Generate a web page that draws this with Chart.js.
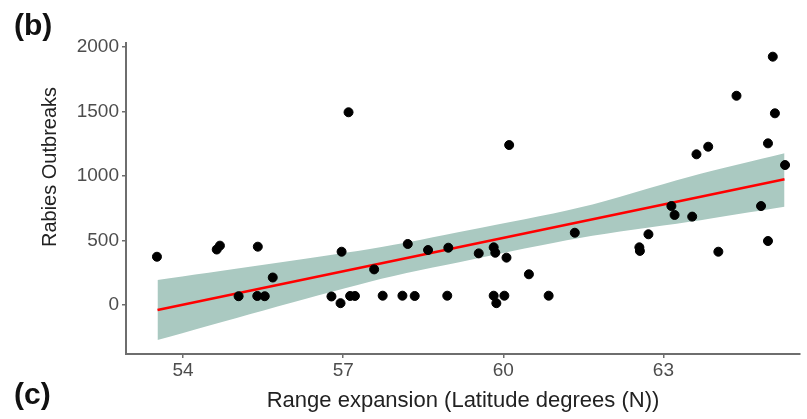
<!DOCTYPE html>
<html>
<head>
<meta charset="utf-8">
<title>Rabies outbreaks vs range expansion</title>
<script src="https://cdn.jsdelivr.net/npm/chart.js@4.4.1/dist/chart.umd.min.js"></script>
<style>
    html, body { margin: 0; padding: 0; background: #ffffff; }
    #wrap { width: 807px; height: 419px; position: relative; }
</style>
</head>
<body>
<div id="wrap"><canvas id="myChart" width="807" height="419"></canvas></div>
<script>
// Variables
    var latitude = [53.51, 54.63, 54.69, 55.40, 55.04, 55.39, 55.53, 55.68, 56.78, 56.95,
                    56.97, 57.13, 57.22, 57.58, 57.74, 58.11, 58.21, 58.34, 58.59, 58.95,
                    58.97, 59.54, 59.82, 59.85, 59.82, 59.87, 60.02, 60.06, 60.48, 60.85,
                    57.10, 60.11, 61.34, 62.55, 62.56, 62.72, 63.15, 63.21, 63.54, 64.03,
                    64.83, 64.96, 65.05, 64.37, 65.09, 63.62, 63.84, 64.96, 65.28];
    var outbreaks = [374, 430, 460, 452, 68, 70, 68, 213, 66, 14,
                     413, 70, 70, 276, 72, 72, 473, 70, 426, 72,
                     444, 400, 447, 405, 72, 14, 72, 367, 238, 72,
                     1494, 1240, 560, 447, 419, 548, 767, 698, 685, 413,
                     767, 496, 1925, 1622, 1486, 1168, 1227, 1253, 1085];

    // fitted line end points
    var fitX = [53.52, 65.27];
    var fitY = [-39, 974];

    // confidence ribbon
    var bandX = [53.52, 57.50, 59.37, 61.43, 63.49, 65.27];
    var bandLow = [-271, 181, 349, 520, 645, 762];
    var bandHigh = [194, 434, 581, 755, 995, 1176];

    var xTicks = [54, 57, 60, 63];
    var yTicks = [0, 500, 1000, 1500, 2000];

    var xTitle = 'Range expansion (Latitude degrees (N))';
    var yTitle = 'Rabies Outbreaks';

    var fontFam = '"Liberation Sans", Arial, Helvetica, sans-serif';

function toPoints(xs, ys){
    var pts = [];
    for (let i = 0; i < xs.length; i++) {
        pts.push({x: xs[i], y: ys[i]});
    }
    return pts;
}

// panel letters and axis titles drawn on top
var labelsPlugin = {
    id: 'labelsPlugin',
    afterDraw: function(chart){
        var ctx = chart.ctx;
        var area = chart.chartArea;
        ctx.save();
        ctx.fillStyle = '#111111';
        ctx.textBaseline = 'middle';
        ctx.textAlign = 'left';
        ctx.font = 'bold 30px ' + fontFam;
        ctx.fillText('(b)', 14, 27);
        ctx.fillText('(c)', 14, 396);

        ctx.fillStyle = '#222222';
        ctx.textAlign = 'center';
        ctx.font = '22px ' + fontFam;
        ctx.fillText(xTitle, (area.left + area.right) / 2, 401);

        ctx.translate(50, 167);
        ctx.rotate(-Math.PI / 2);
        ctx.font = '20px ' + fontFam;
        ctx.fillText(yTitle, 0, 0);
        ctx.restore();
    }
};

function drawChart(){
    var ctx = document.getElementById('myChart').getContext('2d');
    var axisColor = '#6e6e6e';
    var tickFont = {family: fontFam, size: 19};
    var plainLabel = function(value){ return String(value); };

    var chart = new Chart(ctx, {
        type: 'scatter',
        data: {
            datasets: [{
                label: 'Outbreaks',
                data: toPoints(latitude, outbreaks),
                backgroundColor: '#000000',
                borderColor: '#000000',
                pointRadius: 4.5,
                order: 0
            }, {
                label: 'Fit',
                data: toPoints(fitX, fitY),
                showLine: true,
                borderColor: '#ff0000',
                borderWidth: 2.5,
                pointRadius: 0,
                fill: false,
                order: 1
            }, {
                label: 'Upper',
                data: toPoints(bandX, bandHigh),
                showLine: true,
                borderWidth: 0,
                borderColor: 'rgba(0,0,0,0)',
                backgroundColor: 'rgb(170, 201, 193)',
                pointRadius: 0,
                tension: 0.3,
                fill: 3,
                order: 2
            }, {
                label: 'Lower',
                data: toPoints(bandX, bandLow),
                showLine: true,
                borderWidth: 0,
                borderColor: 'rgba(0,0,0,0)',
                pointRadius: 0,
                tension: 0.3,
                fill: false,
                order: 3
            }]
        },
        options: {
            responsive: false,
            animation: false,
            layout: { padding: {left: 0, top: 43, right: 7, bottom: 0} },
            plugins: {
                legend: { display: false },
                tooltip: { enabled: false }
            },
            scales: {
                x: {
                    type: 'linear',
                    min: 52.93,
                    max: 65.56,
                    afterBuildTicks: function(scale){
                        scale.ticks = xTicks.map(function(v){ return {value: v}; });
                    },
                    afterFit: function(scale){
                        scale.height = 65;
                    },
                    border: { display: true, color: axisColor, width: 2 },
                    grid: { display: true, drawOnChartArea: false, drawTicks: true, tickLength: 4, color: axisColor, lineWidth: 1.5 },
                    ticks: { color: '#4d4d4d', font: tickFont, padding: 1, maxRotation: 0, callback: plainLabel }
                },
                y: {
                    type: 'linear',
                    min: -380,
                    max: 2031,
                    afterBuildTicks: function(scale){
                        scale.ticks = yTicks.map(function(v){ return {value: v}; });
                    },
                    afterFit: function(scale){
                        scale.width = 126;
                    },
                    border: { display: true, color: axisColor, width: 2 },
                    grid: { display: true, drawOnChartArea: false, drawTicks: true, tickLength: 4, color: axisColor, lineWidth: 1.5 },
                    ticks: { color: '#4d4d4d', font: tickFont, padding: 3, callback: plainLabel }
                }
            }
        },
        plugins: [labelsPlugin]
    });
}

drawChart();
</script>
</body>
</html>
